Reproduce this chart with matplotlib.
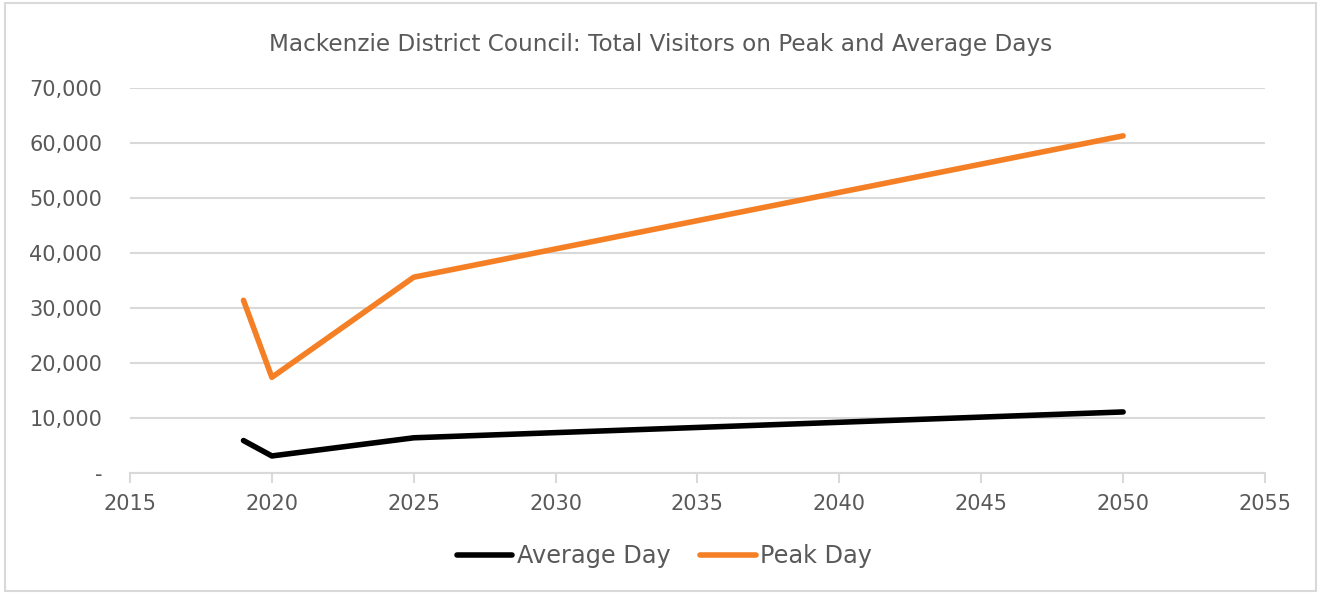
import matplotlib.pyplot as plt
from matplotlib.patches import Rectangle
from matplotlib.ticker import FuncFormatter

years = [2019, 2020, 2025, 2050]
average_day = [5900, 3100, 6400, 11100]
peak_day = [31400, 17400, 35600, 61300]
x_ticks = [2015, 2020, 2025, 2030, 2035, 2040, 2045, 2050, 2055]
y_ticks = [0, 10000, 20000, 30000, 40000, 50000, 60000, 70000]

plt.rcParams['font.family'] = ['DejaVu Sans']
grey = '#595959'
grid = '#d9d9d9'

fig = plt.figure(figsize=(13.21, 5.94), dpi=100)
ax = fig.add_axes([0.0984, 0.2037, 0.8592, 0.6482])

ax.plot(years, average_day, color='black', lw=4, solid_capstyle='round',
        solid_joinstyle='round', label='Average Day')
ax.plot(years, peak_day, color='#F47F24', lw=4, solid_capstyle='round',
        solid_joinstyle='round', label='Peak Day')

ax.set_xlim(2015, 2055)
ax.set_ylim(0, 70000)
ax.set_xticks(x_ticks)
ax.set_yticks(y_ticks)
ax.yaxis.set_major_formatter(FuncFormatter(lambda v, p: '-' if v == 0 else f'{int(v):,}'))
ax.grid(axis='y', color=grid, lw=1.5)
ax.set_axisbelow(True)
for s in ['top', 'right', 'left']:
    ax.spines[s].set_visible(False)
ax.spines['bottom'].set_color(grid)
ax.spines['bottom'].set_linewidth(1.5)
ax.tick_params(axis='y', length=0, pad=20, labelsize=15, labelcolor=grey)
ax.tick_params(axis='x', length=7, width=1.5, color=grid, pad=8, labelsize=15, labelcolor=grey)

fig.text(0.5, 0.925, 'Mackenzie District Council: Total Visitors on Peak and Average Days',
         ha='center', va='center', fontsize=16.7, color=grey)

fig.legend(loc='center', bbox_to_anchor=(0.503, 0.064), ncol=2, frameon=False,
           fontsize=17.3, labelcolor=grey, handlelength=2.3, handletextpad=0.2,
           columnspacing=1.25)

fig.patches.append(Rectangle((0.004, 0.005), 0.992, 0.99, transform=fig.transFigure,
                             fill=False, edgecolor=grid, lw=1.5))

fig.savefig('out.png', dpi=100)
